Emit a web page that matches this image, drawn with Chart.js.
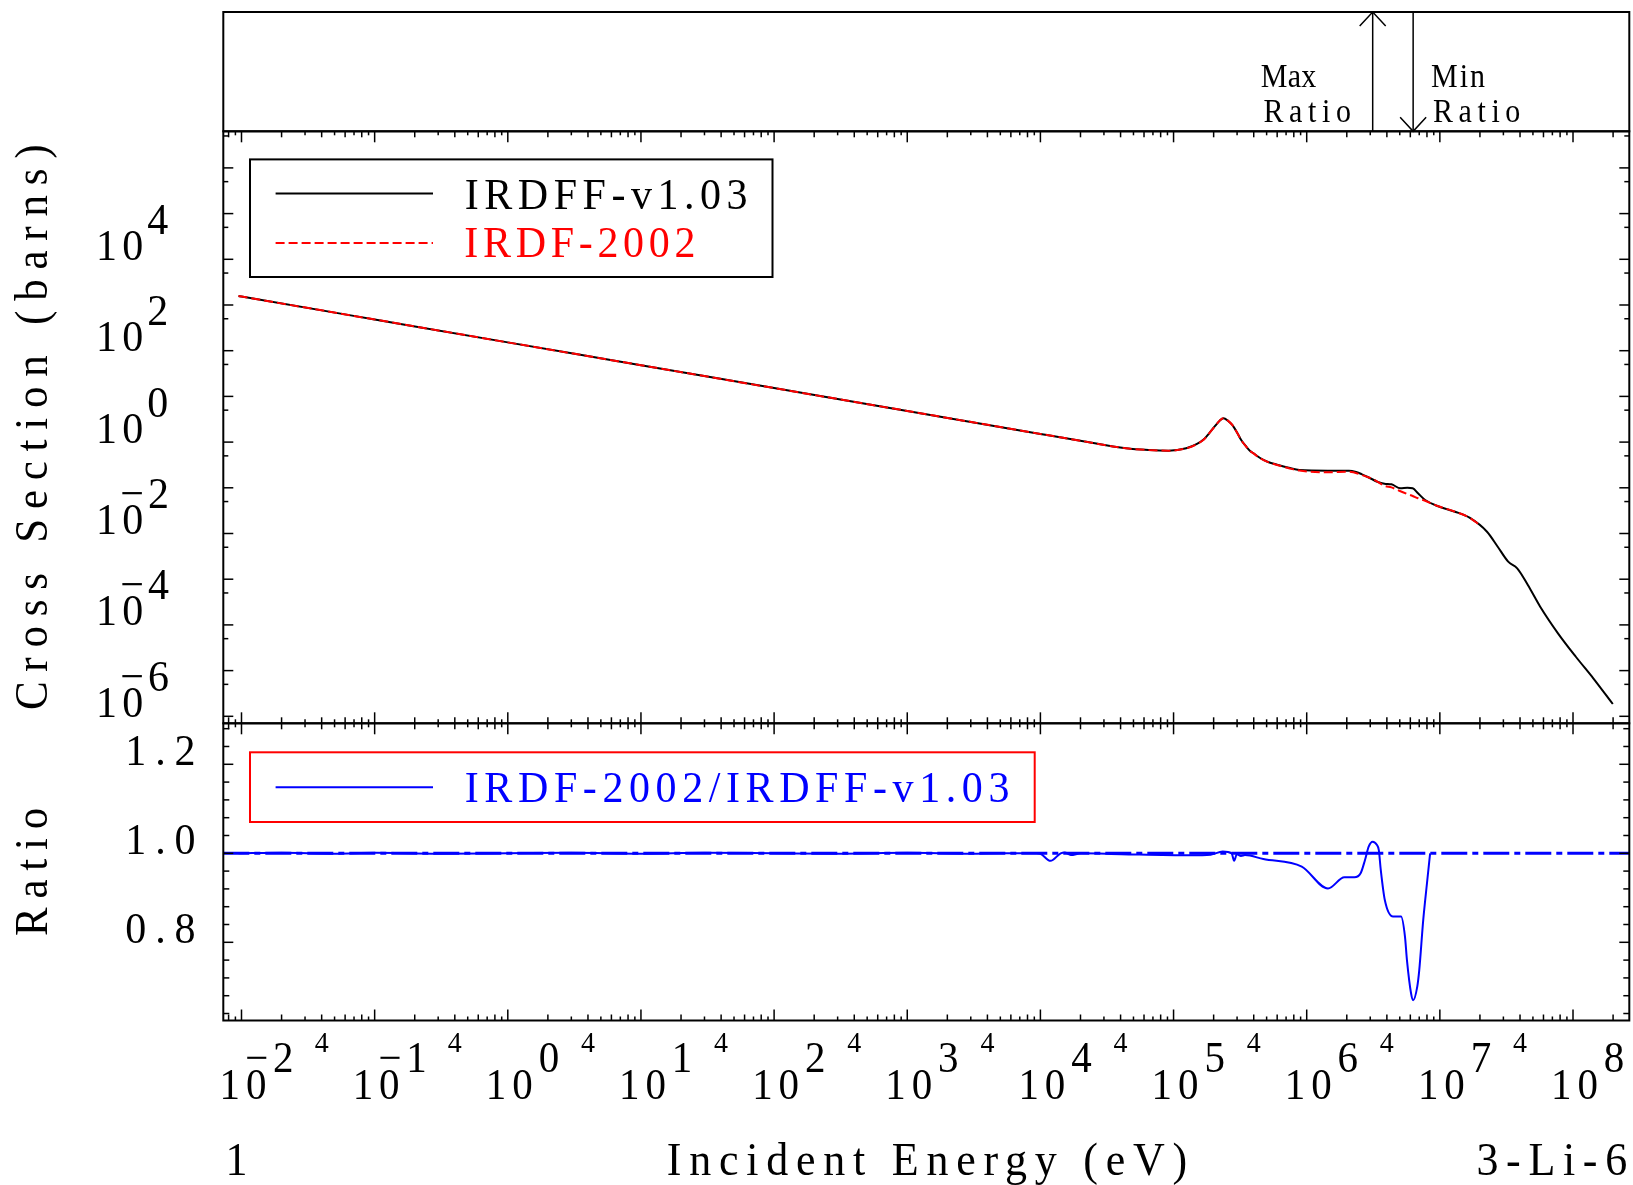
<!doctype html>
<html lang="en">
<head>
<meta charset="utf-8">
<title>3-Li-6 cross section: IRDFF-v1.03 vs IRDF-2002</title>
<style>
  * { margin: 0; padding: 0; }
  body { background: #fff; width: 1633px; height: 1185px; overflow: hidden; }
  canvas { position: absolute; left: 0; top: 0; }
</style>
</head>
<body>
<canvas id="xsChart" width="1633" height="1185"></canvas>
<canvas id="ratioChart" width="1633" height="1185"></canvas>
<script src="https://cdn.jsdelivr.net/npm/chart.js"></script>
<script>
// ---- data ----
// IRDFF-v1.03 (black), energy in eV, cross section in barns
const energy = [0.0095, 0.01, 0.1, 1, 10, 100, 1000, 1e4, 2e4, 4.4e4, 6.5e4, 9.16e4, 1.245e5, 1.5e5, 1.69e5,
  1.85e5, 2.03e5, 2.22e5, 2.37e5, 2.56e5, 2.76e5, 3.02e5, 3.22e5, 3.52e5, 3.74e5, 3.98e5, 4.5e5, 5.08e5,
  6.11e5, 7.34e5, 8.83e5, 1.44e6, 2.08e6, 2.35e6, 2.58e6, 3.0e6, 3.39e6, 3.84e6, 4.33e6, 5.06e6, 5.7e6,
  6.25e6, 6.85e6, 7.75e6, 9.6e6, 1.3e7, 1.67e7, 2.26e7, 2.72e7, 3.26e7, 3.81e7, 4.58e7, 5.67e7, 7.71e7,
  1.05e8, 1.42e8, 1.99e8];
const irdff = [1570, 1530, 482, 152, 48.2, 15.2, 4.80, 1.51, 1.07, 0.731, 0.67, 0.649, 0.731, 0.909, 1.15,
  1.56, 2.17, 2.94, 3.32, 2.94, 2.37, 1.56, 1.11, 0.792, 0.649, 0.569, 0.443, 0.372,
  0.316, 0.275, 0.245, 0.237, 0.237, 0.222, 0.200, 0.162, 0.136, 0.123, 0.119, 0.0975, 0.100,
  0.0975, 0.0759, 0.0541, 0.040, 0.030, 0.0222, 0.01094, 0.00514, 0.00242, 0.00173, 7.47e-4, 2.50e-4, 6.55e-5,
  2.01e-5, 6.79e-6, 1.86e-6];

// IRDF-2002 (red dashed)
const energy2002 = [0.0095, 0.01, 0.1, 1, 10, 100, 1000, 1e4, 2e4, 4.4e4, 6.5e4, 9.16e4, 1.245e5, 1.5e5, 1.69e5,
  1.85e5, 2.03e5, 2.22e5, 2.37e5, 2.56e5, 2.76e5, 3.02e5, 3.22e5, 3.52e5, 3.74e5, 3.98e5, 4.5e5, 5.08e5,
  6.11e5, 7.34e5, 8.83e5, 1.44e6, 2.08e6, 2.58e6, 3.0e6, 3.39e6, 3.84e6, 4.33e6, 5.06e6, 5.7e6, 6.25e6,
  6.85e6, 7.75e6, 9.6e6, 1.3e7, 1.67e7, 2.0e7];
const irdf2002 = [1570, 1530, 482, 152, 48.2, 15.2, 4.80, 1.51, 1.07, 0.731, 0.67, 0.649, 0.728, 0.905, 1.145,
  1.555, 2.17, 2.95, 3.33, 2.95, 2.37, 1.555, 1.10, 0.79, 0.646, 0.566, 0.440, 0.368,
  0.311, 0.268, 0.238, 0.219, 0.225, 0.192, 0.164, 0.137, 0.110, 0.102, 0.084, 0.073, 0.066,
  0.059, 0.052, 0.040, 0.030, 0.0222, 0.0152];

// ratio IRDF-2002 / IRDFF-v1.03 (blue)
const ratioEnergy = [0.0095, 0.02, 0.05, 0.1, 0.3, 1, 3, 10, 30, 100, 300, 1000, 3000, 4980, 9350, 1e4,
  1.19e4, 1.42e4, 1.52e4, 1.69e4, 2.02e4, 4.06e4, 1.34e5, 1.9e5, 2.34e5, 2.73e5, 2.85e5, 2.99e5, 3.21e5,
  3.44e5, 4.72e5, 9.18e5, 1.445e6, 1.92e6, 2.28e6, 2.54e6, 2.74e6, 2.92e6, 3.13e6, 3.36e6, 3.48e6, 3.6e6,
  3.86e6, 4.45e6, 5.11e6, 5.47e6, 5.66e6, 6.08e6, 6.3e6, 6.76e6, 7.0e6, 7.5e6, 8.05e6, 8.45e6];
const ratio = [1.0, 1.001, 0.999, 1.001, 0.999, 1.0, 1.001, 0.999, 1.001, 1.0, 0.999, 1.001, 0.999, 1.0, 1.0, 0.999,
  0.983, 1.0, 1.002, 0.996, 1.0, 0.998, 0.9955, 0.997, 1.004, 1.0, 0.983, 0.998, 0.994,
  0.996, 0.987, 0.970, 0.921, 0.946, 0.946, 0.955, 0.985, 1.015, 1.026, 1.019, 1.007, 0.9625,
  0.895, 0.858, 0.858, 0.813, 0.760, 0.685, 0.670, 0.700, 0.737, 0.850, 0.940, 1.0];

// axis limits and tick labels
const X_MIN = 7.30e-3, X_MAX = 2.647e8;
const Y_MIN = 7.03e-7, Y_MAX = 6.32e6;
const R_MIN = 0.6243, R_MAX = 1.2921;
const xLabelExps = [-2, -1, 0, 1, 2, 3, 4, 5, 6, 7, 8];
const xFourExps = [-2, -1, 0, 1, 2, 3, 4, 5, 6, 7];
const yLabelExps = [4, 2, 0, -2, -4, -6];
const ratioLabels = ['1.2', '1.0', '0.8'];
const ratioLabelValues = [1.2, 1.0, 0.8];
const ratioRefEnergy = [X_MIN, X_MAX];
const ratioRef = [1, 1];

// energies of the max / min ratio for the arrows on top
const iMax = ratio.indexOf(Math.max(...ratio));
const iMin = ratio.indexOf(Math.min(...ratio));
const maxRatioE = ratioEnergy[iMax];
const minRatioE = ratioEnergy[iMin];

const TOP_BOX = 12;
const SERIF = '"Liberation Serif", "DejaVu Serif", serif';

// fixed pitch text like the old plotter font
function mono(ctx, s, x, y, o) {
  o = o || {};
  ctx.save();
  ctx.font = (o.size || 42) + 'px ' + SERIF;
  ctx.fillStyle = o.color || '#000';
  ctx.textAlign = 'left';
  ctx.textBaseline = 'alphabetic';
  ctx.letterSpacing = '0px';
  ctx.translate(x, y);
  if (o.rot) ctx.rotate(o.rot);
  ctx.scale(1, o.sy || 1.06);
  const pitch = o.pitch || 26.4;
  const n = Array.from(s).length;
  const ls = (pitch * n - ctx.measureText(s).width) / n;
  ctx.letterSpacing = ls + 'px';
  const total = pitch * n;
  const x0 = o.align === 'right' ? -total : (o.align === 'center' ? -total / 2 : 0);
  ctx.fillText(s, x0 + ls / 2, 0);
  ctx.letterSpacing = '0px';
  ctx.restore();
}

function line(ctx, x1, y1, x2, y2) {
  ctx.beginPath();
  ctx.moveTo(x1, y1);
  ctx.lineTo(x2, y2);
  ctx.stroke();
}

function expStr(k) {
  return k < 0 ? '\u2212' + (-k) : String(k);
}

function xTickMarks(ctx, sc, yEdge, dir) {
  for (let k = -3; k <= 8; k++) {
    for (let m = 1; m <= 9; m++) {
      const v = m * Math.pow(10, k);
      if (v < sc.min || v > sc.max) continue;
      const px = sc.getPixelForValue(v);
      const len = m === 1 ? 11 : (m % 2 === 0 ? 6 : 4);
      line(ctx, px, yEdge, px, yEdge + dir * len);
    }
  }
}

// frame, ticks, labels, legend and ratio arrows of the cross section panel
const xsDecor = {
  id: 'xsDecor',
  afterDraw(chart) {
    const { ctx, chartArea: a, scales: { x, y } } = chart;
    ctx.save();
    ctx.strokeStyle = '#000';
    ctx.lineWidth = 2;
    ctx.strokeRect(a.left, TOP_BOX, a.right - a.left, a.top - TOP_BOX);
    ctx.strokeRect(a.left, a.top, a.right - a.left, a.bottom - a.top);

    ctx.lineWidth = 1.5;
    xTickMarks(ctx, x, a.top, 1);
    xTickMarks(ctx, x, a.bottom, -1);
    for (let k = -7; k <= 7; k++) {
      [[1, 10], [5, 5]].forEach(([m, len]) => {
        const v = m * Math.pow(10, k);
        if (v < y.min || v > y.max) return;
        const py = y.getPixelForValue(v);
        line(ctx, a.left, py, a.left + len, py);
        line(ctx, a.right, py, a.right - len, py);
      });
    }

    yLabelExps.forEach(k => {
      const py = y.getPixelForValue(Math.pow(10, k));
      mono(ctx, '10', 146, py + 0.5, { align: 'right' });
      mono(ctx, expStr(k), 171, py - 25.5, { align: 'right' });
    });
    mono(ctx, 'Cross Section (barns)', 47, (a.top + a.bottom) / 2,
      { rot: -Math.PI / 2, align: 'center', size: 43, pitch: 27.4 });

    // legend
    const ds = chart.data.datasets;
    const lx = a.left + 26.7, ly = a.top + 28.1;
    ctx.lineWidth = 2;
    ctx.strokeStyle = '#000';
    ctx.strokeRect(lx, ly, 522.5, 117.6);
    ctx.strokeStyle = ds[0].borderColor;
    line(ctx, lx + 25.6, ly + 34.2, lx + 183, ly + 34.2);
    mono(ctx, ds[0].label, lx + 212, ly + 49.2, { color: ds[0].borderColor, pitch: 26.2 });
    ctx.strokeStyle = ds[1].borderColor;
    ctx.setLineDash(ds[1].borderDash);
    line(ctx, lx + 25.6, ly + 83.6, lx + 183, ly + 83.6);
    ctx.setLineDash([]);
    mono(ctx, ds[1].label, lx + 212, ly + 97.6, { color: ds[1].borderColor, pitch: 26.2 });

    // max / min ratio arrows
    ctx.strokeStyle = '#000';
    ctx.lineWidth = 1.5;
    const xMax = x.getPixelForValue(maxRatioE);
    const xMin = x.getPixelForValue(minRatioE);
    line(ctx, xMax, TOP_BOX, xMax, a.top);
    ctx.beginPath();
    ctx.moveTo(xMax - 13, TOP_BOX + 14); ctx.lineTo(xMax, TOP_BOX); ctx.lineTo(xMax + 13, TOP_BOX + 14);
    ctx.stroke();
    line(ctx, xMin, TOP_BOX, xMin, a.top);
    ctx.beginPath();
    ctx.moveTo(xMin - 13, a.top - 14); ctx.lineTo(xMin, a.top); ctx.lineTo(xMin + 13, a.top - 14);
    ctx.stroke();
    const small = { size: 30, pitch: 18.6, sy: 1.15 };
    mono(ctx, 'Max', xMax - 112, TOP_BOX + 75.3, small);
    mono(ctx, 'Ratio', xMax - 112, TOP_BOX + 110.3, small);
    mono(ctx, 'Min', xMin + 17, TOP_BOX + 75.3, small);
    mono(ctx, 'Ratio', xMin + 17, TOP_BOX + 110.3, small);
    ctx.restore();
  }
};

// frame, ticks, labels and legend of the ratio panel plus the energy axis
const ratioDecor = {
  id: 'ratioDecor',
  afterDraw(chart) {
    const { ctx, chartArea: a, scales: { x, y } } = chart;
    ctx.save();
    ctx.strokeStyle = '#000';
    ctx.lineWidth = 2;
    ctx.strokeRect(a.left, a.top, a.right - a.left, a.bottom - a.top);

    ctx.lineWidth = 1.5;
    xTickMarks(ctx, x, a.top, 1);
    xTickMarks(ctx, x, a.bottom, -1);
    for (let i = 16; i <= 32; i++) {
      const v = i * 0.04;
      if (v < y.min || v > y.max) continue;
      const py = y.getPixelForValue(v);
      const len = i % 5 === 0 ? 10 : 6;
      line(ctx, a.left, py, a.left + len, py);
      line(ctx, a.right, py, a.right - len, py);
    }

    ratioLabels.forEach((t, i) => {
      mono(ctx, t, 200, y.getPixelForValue(ratioLabelValues[i]) + 0.5, { align: 'right' });
    });
    mono(ctx, 'Ratio', 47, (a.top + a.bottom) / 2,
      { rot: -Math.PI / 2, align: 'center', size: 43, pitch: 27.4 });

    // legend
    const ds = chart.data.datasets[0];
    const lx = a.left + 26.7, ly = a.top + 29;
    ctx.lineWidth = 2;
    ctx.strokeStyle = '#ff0000';
    ctx.strokeRect(lx, ly, 784.7, 69.7);
    ctx.strokeStyle = ds.borderColor;
    line(ctx, lx + 25.6, ly + 35, lx + 183, ly + 35);
    mono(ctx, ds.label, lx + 212, ly + 49.4, { color: ds.borderColor, pitch: 26.2 });

    // energy axis labels
    xLabelExps.forEach(k => {
      const px = x.getPixelForValue(Math.pow(10, k));
      mono(ctx, '10', px + 27.9, a.bottom + 78, { align: 'right', size: 41 });
      mono(ctx, expStr(k), px + 54.3, a.bottom + 51.5, { align: 'right', size: 41 });
    });
    xFourExps.forEach(k => {
      const px = x.getPixelForValue(4 * Math.pow(10, k));
      mono(ctx, '4', px, a.bottom + 31.5, { align: 'center', size: 28, pitch: 17 });
    });
    mono(ctx, '1', 236.5, a.bottom + 154.5, { align: 'center', size: 44 });
    mono(ctx, 'Incident Energy (eV)', 927, a.bottom + 154.5, { align: 'center', size: 44 });
    mono(ctx, '3-Li-6', 1631, a.bottom + 154.5, { align: 'right', size: 44, pitch: 26.4 });
    ctx.restore();
  }
};

const xsChart = new Chart(document.getElementById('xsChart'), {
  type: 'line',
  data: {
    datasets: [{
      label: 'IRDFF-v1.03',
      data: energy.map((e, i) => ({ x: e, y: irdff[i] })),
      borderColor: '#000000',
      borderWidth: 2,
      pointRadius: 0,
      cubicInterpolationMode: 'monotone',
      order: 2
    }, {
      label: 'IRDF-2002',
      data: energy2002.map((e, i) => ({ x: e, y: irdf2002[i] })),
      borderColor: '#ff0000',
      borderWidth: 2,
      borderDash: [9, 4],
      pointRadius: 0,
      cubicInterpolationMode: 'monotone',
      order: 1
    }]
  },
  options: {
    responsive: false,
    animation: false,
    devicePixelRatio: 1,
    events: [],
    layout: { padding: { left: 223.3, right: 3.7, top: 131.3, bottom: 461.7 } },
    scales: {
      x: { type: 'logarithmic', display: false, min: X_MIN, max: X_MAX },
      y: { type: 'logarithmic', display: false, min: Y_MIN, max: Y_MAX }
    },
    plugins: { legend: { display: false }, tooltip: { enabled: false } }
  },
  plugins: [xsDecor]
});

const ratioChart = new Chart(document.getElementById('ratioChart'), {
  type: 'line',
  data: {
    datasets: [{
      label: 'IRDF-2002/IRDFF-v1.03',
      data: ratioEnergy.map((e, i) => ({ x: e, y: ratio[i] })),
      borderColor: '#0000ff',
      borderWidth: 2,
      pointRadius: 0,
      cubicInterpolationMode: 'monotone',
      order: 1
    }, {
      label: 'ratio = 1',
      data: ratioRefEnergy.map((e, i) => ({ x: e, y: ratioRef[i] })),
      borderColor: '#0000ff',
      borderWidth: 3,
      borderDash: [26, 5, 6, 5],
      pointRadius: 0,
      order: 2
    }]
  },
  options: {
    responsive: false,
    animation: false,
    devicePixelRatio: 1,
    events: [],
    layout: { padding: { left: 223.3, right: 3.7, top: 723.3, bottom: 164.5 } },
    scales: {
      x: { type: 'logarithmic', display: false, min: X_MIN, max: X_MAX },
      y: { type: 'linear', display: false, min: R_MIN, max: R_MAX }
    },
    plugins: { legend: { display: false }, tooltip: { enabled: false } }
  },
  plugins: [ratioDecor]
});
</script>
</body>
</html>
